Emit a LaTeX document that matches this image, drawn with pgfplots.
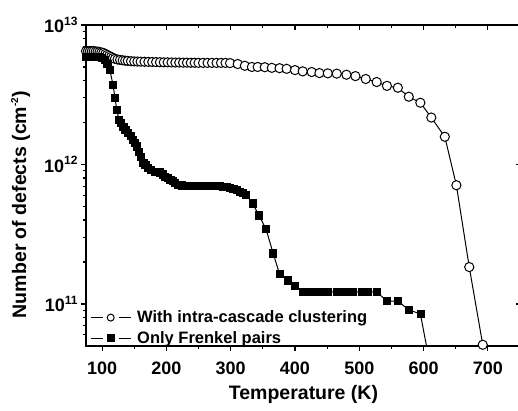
\documentclass[border=0pt]{standalone}
\usepackage{pgfplots}
\pgfplotsset{compat=1.18}
\usepackage{fontspec}
\setmainfont{Liberation Sans}
\newcommand\ex[1]{\raisebox{0.4em}{\fontsize{12}{12}\selectfont #1}}
\newcommand\exs[1]{\raisebox{0.42em}{\fontsize{10}{10}\selectfont #1}}
\pgfplotsset{
 myframe/.style={
  scale only axis, width=435pt, height=321pt,
  xmin=75, xmax=751.5, ymin=5e10, ymax=1e13,
  major tick length=5pt, minor tick length=3pt,
  every tick/.style={black, line width=1.1pt},
  xtick={100,200,...,700}, minor xtick={150,250,...,750},
  ytick={1e11,1e12,1e13},
  minor ytick={6e10,7e10,8e10,9e10,2e11,3e11,4e11,5e11,6e11,7e11,8e11,9e11,2e12,3e12,4e12,5e12,6e12,7e12,8e12,9e12},
 }
}
\begin{document}
\begin{tikzpicture}
\begin{semilogyaxis}[myframe,
 axis line style={line width=1.6pt},
 tick align=outside, xtick pos=bottom, ytick pos=left,
 xticklabels={100,200,300,400,500,600,700},
 yticklabels={10\ex{11},10\ex{12},10\ex{13}},
 ticklabel style={font=\fontsize{18}{18}\selectfont\bfseries},
 xticklabel style={yshift=-7pt},
 xlabel={Temperature (K)},
 ylabel={Number of defects (cm\exs{-2})},
 label style={font=\fontsize{19.5}{20}\selectfont\bfseries},
 xlabel style={at={(axis description cs:0.5,0)}, anchor=north, yshift=-36pt},
 ylabel style={at={(axis description cs:-0.12,0.44)}, anchor=south, rotate=0},
 legend style={at={(axis description cs:0,0)}, anchor=south west, draw=none, fill=none,
   font=\fontsize{16.5}{17}\selectfont\bfseries, xshift=1pt, yshift=-3pt, row sep=3pt,
   /tikz/every odd column/.append style={column sep=4pt}},
 legend cell align=left,
 legend image code/.code={\draw (0pt,0pt) -- (12pt,0pt) (28pt,0pt) -- (40pt,0pt);
   \draw[only marks, mark size=3.5pt] plot coordinates {(20pt,0pt)};},
]
\addplot[black, line width=1pt, mark=*, mark size=4.6pt, mark options={fill=white, draw=black, line width=1pt}] coordinates {
(75,6.5e12)(78,6.5e12)(81,6.5e12)(84,6.5e12)(87,6.5e12)(90,6.45e12)(93,6.45e12)(96,6.4e12)(99,6.35e12)(102,6.3e12)(105,6.2e12)(108,6.1e12)(111,6.0e12)(114,5.9e12)(117,5.8e12)(120,5.72e12)(124,5.66e12)(128,5.62e12)(132,5.58e12)(136,5.55e12)(140,5.53e12)(145,5.5e12)(150,5.48e12)(155,5.47e12)(160,5.46e12)(166,5.45e12)(172,5.44e12)(178,5.43e12)(184,5.42e12)(190,5.41e12)(196,5.4e12)(202,5.4e12)(208,5.39e12)(214,5.38e12)(220,5.38e12)(226,5.37e12)(232,5.37e12)(238,5.36e12)(244,5.36e12)(250,5.35e12)(257,5.35e12)(264,5.35e12)(271,5.35e12)(278,5.35e12)(285,5.35e12)(292,5.35e12)(299,5.33e12)(311,5.25e12)(322,5.1e12)(333,5.0e12)(342,5.0e12)(353,4.98e12)(364,4.93e12)(376,4.9e12)(387,4.85e12)(400,4.75e12)(412,4.65e12)(426,4.6e12)(438,4.52e12)(451,4.5e12)(465,4.48e12)(480,4.4e12)(494,4.3e12)(510,4.1e12)(527,3.9e12)(543,3.66e12)(560,3.55e12)(577,3.06e12)(595,2.77e12)(612,2.17e12)(633,1.58e12)(651,7.1e11)(671,1.84e11)(692,5.1e10)
};
\addlegendentry{With intra-cascade clustering}
\addplot[black, line width=1pt, mark=square*, mark size=3.6pt, mark options={fill=black, draw=black, line width=0.5pt}] coordinates {
(75,5.9e12)(80,5.9e12)(85,5.9e12)(90,5.9e12)(95,5.9e12)(100,5.85e12)(104,5.6e12)(108,5.3e12)(112,4.77e12)(117,3.73e12)(120,3.01e12)(123,2.47e12)(126,2.1e12)(129,1.98e12)(133,1.87e12)(136,1.78e12)(140,1.69e12)(144,1.6e12)(148,1.51e12)(151,1.43e12)(154,1.35e12)(157,1.24e12)(160,1.14e12)(164,1.03e12)(167,9.9e11)(171,9.5e11)(176,9.2e11)(182,8.9e11)(186,8.85e11)(190,8.8e11)(194,8.5e11)(198,8.2e11)(202,8e11)(206,7.8e11)(210,7.6e11)(213,7.4e11)(218,7.2e11)(224,7.1e11)(229,7.05e11)(235,7e11)(241,7e11)(247,7e11)(253,7e11)(258,7e11)(263,7e11)(268,7e11)(273,7e11)(278,7e11)(283,7e11)(288,6.95e11)(293,6.9e11)(299,6.85e11)(304,6.7e11)(309,6.55e11)(314,6.4e11)(319,6.25e11)(324,6.05e11)(334,5.27e11)(344,4.32e11)(355,3.44e11)(366,2.31e11)(376,1.64e11)(389,1.48e11)(400,1.35e11)(412,1.22e11)(419,1.22e11)(426,1.22e11)(439,1.22e11)(451,1.22e11)(465,1.22e11)(477,1.22e11)(490,1.22e11)(504,1.22e11)(513,1.22e11)(527,1.22e11)(543,1.05e11)(560,1.05e11)(577,9.06e10)(595,8.5e10)(612,3.3e10)
};
\addlegendentry{Only Frenkel pairs}
\end{semilogyaxis}
\begin{semilogyaxis}[myframe,
 axis line style={line width=1.6pt},
 axis x line*=top, axis y line*=right,
 tick align=inside,
 xticklabels={}, yticklabels={},
]
\addplot[draw=none] coordinates {(100,1e12)};
\end{semilogyaxis}
\pgfresetboundingbox
\path (current axis.south west) ++(-86pt,-64pt) rectangle ++(518pt,410pt);
\end{tikzpicture}
\end{document}
